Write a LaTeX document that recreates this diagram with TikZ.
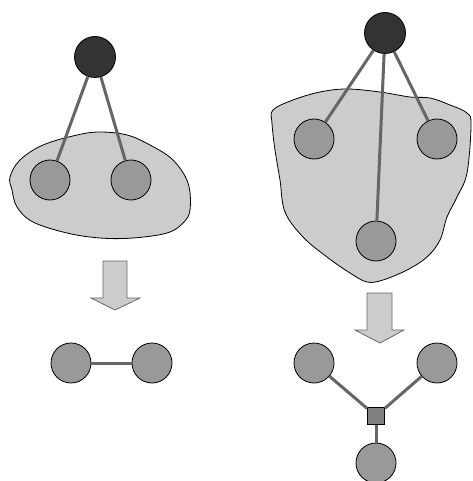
\documentclass[tikz,border=0pt]{standalone}
\usepackage{tikz}
\usetikzlibrary{arrows}
\definecolor{darknode}{HTML}{333333}
\definecolor{lightnode}{HTML}{999999}
\definecolor{blobfill}{HTML}{CCCCCC}
\definecolor{edgegray}{HTML}{666666}
\definecolor{hubfill}{HTML}{808080}
\begin{document}
\begin{tikzpicture}[x=1pt,y=-1pt]
		\tikzstyle{RootStyle}=[circle,draw=black,line width=0.8pt,fill=darknode,minimum size=41pt,inner sep=0pt]
		\tikzstyle{LeafStyle}=[circle,draw=black,line width=0.8pt,fill=lightnode,minimum size=40pt,inner sep=0pt]
		\tikzstyle{HubStyle}=[rectangle,draw=black,line width=0.8pt,fill=hubfill,minimum size=17pt,inner sep=0pt]
		\tikzstyle{EdgeStyle}=[draw=edgegray,line width=3pt]
		\tikzstyle{BlobStyle}=[draw=black,line width=0.8pt,fill=blobfill]
		\tikzstyle{ArrowStyle}=[draw=edgegray,line width=0.8pt,fill=blobfill]
		\useasboundingbox (0,0) rectangle (472,481);
		% left blob
		\draw[BlobStyle] plot[smooth cycle,tension=0.6] coordinates {(10,177) (20,160) (43,145) (77,135) (100,132) (127,135)
			(150,145) (173,160) (188,183) (190,210) (183,223) (167,233) (133,238) (100,238) (67,233) (33,222) (17,207) (12,190)};
		% right blob
		\draw[BlobStyle] plot[smooth cycle,tension=0.6] coordinates {(273,110) (293,100) (320,92) (347,89) (380,92) (410,97)
			(430,98) (450,105) (467,113) (471,125) (467,173) (457,197) (447,217) (440,240) (427,257) (407,270) (383,280)
			(367,282) (350,273) (327,257) (303,237) (285,212) (280,180) (275,150) (272,123)};
		% left graph
		\node[RootStyle] (L0) at (95,57) {};
		\node[LeafStyle] (L1) at (50,180) {};
		\node[LeafStyle] (L2) at (131,180) {};
		\draw[EdgeStyle] (L0) -- (L1);
		\draw[EdgeStyle] (L0) -- (L2);
		% right graph
		\node[RootStyle] (R0) at (385,33) {};
		\node[LeafStyle] (R1) at (314,139) {};
		\node[LeafStyle] (R2) at (437,139) {};
		\node[LeafStyle] (R3) at (376,241) {};
		\draw[EdgeStyle] (R0) -- (R1);
		\draw[EdgeStyle] (R0) -- (R2);
		\draw[EdgeStyle] (R0) -- (R3);
		% arrows
		\draw[ArrowStyle] (103,261) -- (127,261) -- (127,298) -- (140,298) -- (115,310) -- (91,298) -- (103,298) -- cycle;
		\draw[ArrowStyle] (367,293) -- (392,293) -- (392,330) -- (404,330) -- (380,343) -- (355,330) -- (367,330) -- cycle;
		% left result
		\node[LeafStyle] (A1) at (71,363) {};
		\node[LeafStyle] (A2) at (152,363) {};
		\draw[EdgeStyle] (A1) -- (A2);
		% right result
		\node[LeafStyle] (B1) at (314,363) {};
		\node[LeafStyle] (B2) at (437,363) {};
		\node[LeafStyle] (B3) at (376,463) {};
		\node[HubStyle] (H) at (376,416) {};
		\draw[EdgeStyle] (B1) -- (H);
		\draw[EdgeStyle] (B2) -- (H);
		\draw[EdgeStyle] (B3) -- (H);
	\end{tikzpicture}
\end{document}
